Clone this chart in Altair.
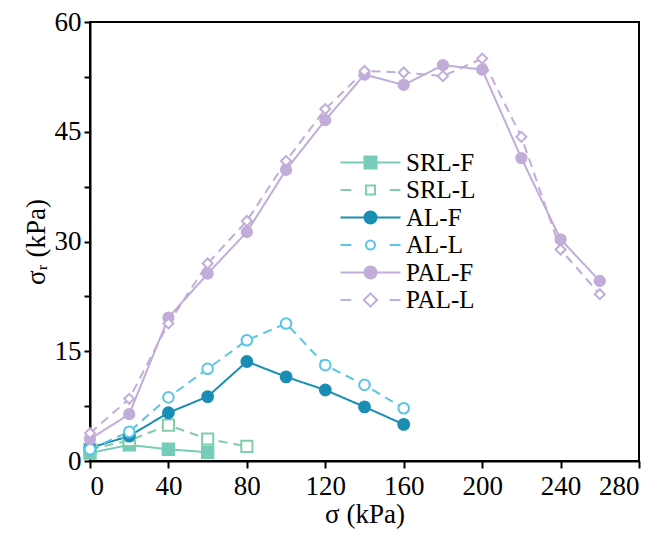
import altair as alt
import pandas as pd

# ---- data ----
sigma_srl_f = [0, 20, 40, 60]
srl_f = [1.1, 2.2, 1.6, 1.2]
sigma_srl_l = [0, 20, 40, 60, 80]
srl_l = [1.6, 2.8, 4.9, 3.0, 2.0]
sigma_al = [0, 20, 40, 60, 80, 100, 120, 140, 160]
al_f = [1.8, 3.4, 6.6, 8.8, 13.6, 11.5, 9.7, 7.4, 5.0]
al_l = [1.6, 4.0, 8.7, 12.6, 16.5, 18.8, 13.1, 10.4, 7.2]
sigma_pal = [0, 20, 40, 60, 80, 100, 120, 140, 160, 180, 200, 220, 240, 260]
pal_f = [3.0, 6.4, 19.6, 25.6, 31.3, 39.8, 46.6, 52.8, 51.4, 54.1, 53.5, 41.4, 30.3, 24.6]
pal_l = [3.8, 8.5, 18.8, 27.0, 32.8, 41.0, 48.1, 53.3, 53.1, 52.6, 55.0, 44.3, 28.9, 22.8]

order = ["SRL-F", "SRL-L", "AL-F", "AL-L", "PAL-F", "PAL-L"]
colors = ["#76ccb8", "#80cfa9", "#1a8db5", "#5cc5e6", "#c2acd9", "#c2acd9"]
fills = ["#76ccb8", "white", "#1a8db5", "white", "#c2acd9", "white"]
dashes = [[1, 0], [9, 6], [1, 0], [9, 6], [1, 0], [9, 6]]
shapes = ["square", "square", "circle", "circle", "circle", "diamond"]
sizes = [130, 100, 190, 130, 190, 160]

rows = []
for name, xs, ys in [
    ("SRL-F", sigma_srl_f, srl_f),
    ("SRL-L", sigma_srl_l, srl_l),
    ("AL-F", sigma_al, al_f),
    ("AL-L", sigma_al, al_l),
    ("PAL-F", sigma_pal, pal_f),
    ("PAL-L", sigma_pal, pal_l),
]:
    for xv, yv in zip(xs, ys):
        rows.append({"sigma": xv, "tau": yv, "series": name})
df = pd.DataFrame(rows)

FONT = "Liberation Serif"

x_enc = alt.X(
    "sigma:Q",
    scale=alt.Scale(domain=[0, 280], nice=False),
    axis=alt.Axis(
        values=[0, 40, 80, 120, 160, 200, 240, 280],
        title="σ (kPa)",
        tickSize=7,
        labelPadding=5,
        titlePadding=2,
    ),
)
y_enc = alt.Y(
    "tau:Q",
    scale=alt.Scale(domain=[0, 60], nice=False),
    axis=alt.Axis(
        values=[0, 7.5, 15, 22.5, 30, 37.5, 45, 52.5, 60],
        labelExpr="datum.value % 15 == 0 ? datum.label : ''",
        title="σᵣ (kPa)",
        tickSize=6,
        labelPadding=3,
        titlePadding=4,
    ),
)

line = alt.Chart(df).mark_line(strokeWidth=2).encode(
    x=x_enc,
    y=y_enc,
    color=alt.Color("series:N", scale=alt.Scale(domain=order, range=colors), legend=None),
    strokeDash=alt.StrokeDash("series:N", scale=alt.Scale(domain=order, range=dashes), legend=None),
    order="sigma:Q",
)

points = alt.Chart(df).mark_point(strokeWidth=2, opacity=1).encode(
    x="sigma:Q",
    y="tau:Q",
    color=alt.Color("series:N", scale=alt.Scale(domain=order, range=colors), legend=None),
    fill=alt.Fill("series:N", scale=alt.Scale(domain=order, range=fills), legend=None),
    shape=alt.Shape("series:N", scale=alt.Scale(domain=order, range=shapes), legend=None),
    size=alt.Size("series:N", scale=alt.Scale(domain=order, range=sizes), legend=None),
)

# legend symbols: line + marker drawn as custom paths
sq = "M-1,-1L1,-1L1,1L-1,1Z"
sq_o = "M-0.75,-0.75L0.75,-0.75L0.75,0.75L-0.75,0.75Z"
ci = "M-1,0A1,1,0,1,0,1,0A1,1,0,1,0,-1,0Z"
ci_o = "M-0.75,0A0.75,0.75,0,1,0,0.75,0A0.75,0.75,0,1,0,-0.75,0Z"
di_o = "M0,-1.1L1.1,0L0,1.1L-1.1,0Z"
solid = "M-5,0L-1,0M1,0L5,0"
dash = "M-5,0L-3.2,0M3.2,0L5,0"
leg_paths = [
    solid + sq,
    dash + sq_o,
    solid + ci,
    dash + ci_o,
    solid + ci,
    dash + di_o,
]
legend_df = pd.DataFrame({"key": order, "sigma": [0] * 6, "tau": [0] * 6})
legend_layer = alt.Chart(legend_df).mark_point(opacity=0, strokeWidth=2).encode(
    x="sigma:Q",
    y="tau:Q",
    shape=alt.Shape(
        "key:N",
        scale=alt.Scale(domain=order, range=leg_paths),
        legend=alt.Legend(
            title=None,
            orient="none",
            legendX=268,
            legendY=128,
            symbolSize=144,
            symbolOpacity=1,
            symbolStrokeWidth=2,
            labelFont=FONT,
            labelFontSize=25,
            labelColor="black",
            labelOffset=23,
            rowPadding=1.5,
            padding=0,
        ),
    ),
    stroke=alt.Stroke("key:N", scale=alt.Scale(domain=order, range=colors)),
    fill=alt.Fill("key:N", scale=alt.Scale(domain=order, range=fills)),
)

chart = (
    alt.layer(line, points, legend_layer)
    .resolve_scale(shape="independent", fill="independent", stroke="independent")
    .properties(width=549, height=439, padding={"left": 14, "top": 0, "right": 5, "bottom": 5})
    .configure_view(stroke="black", strokeWidth=2)
    .configure_axis(
        labelFont=FONT,
        labelFontSize=27,
        labelColor="black",
        titleFont=FONT,
        titleFontSize=27,
        titleFontWeight="normal",
        titleColor="black",
        domainColor="black",
        domainWidth=2,
        tickColor="black",
        tickWidth=2,
        grid=False,
    )
)

chart.save("out.html", embed_options={"renderer": "svg", "actions": False})
